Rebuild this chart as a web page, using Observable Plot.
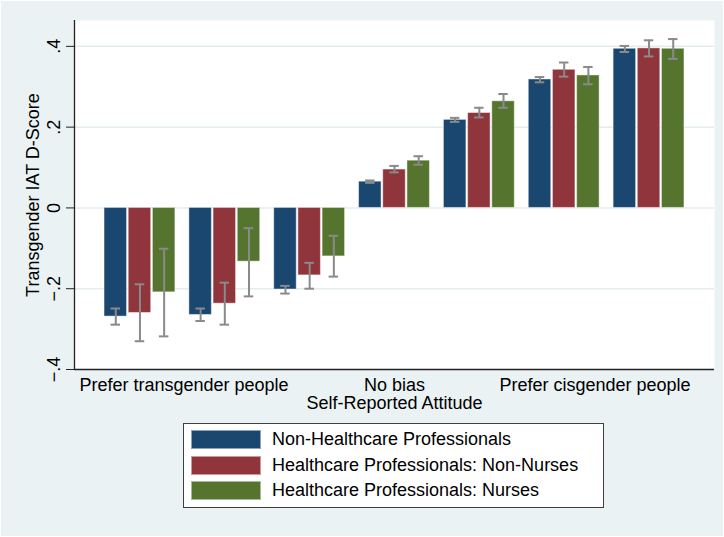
<!DOCTYPE html>
<html>
<head>
<meta charset="utf-8">
<script src="https://cdn.jsdelivr.net/npm/d3@7"></script>
<script src="https://cdn.jsdelivr.net/npm/@observablehq/plot@0.6"></script>
<style>
  body { margin: 0; background: #fff; }
  #wrap { position: relative; width: 724px; height: 537px; background: #eaf2f3;
          box-shadow: inset 0 0 0 1px #fff; overflow: hidden;
          font-family: "Liberation Sans", Arial, sans-serif; color: #000; }
  .layer { position: absolute; left: 0; top: 0; }
  .layer svg { display: block; }
  #legend { position: absolute; left: 183px; top: 423px; width: 419px; height: 83px;
            background: #fff; border: 1px solid #404040; }
  .row { position: absolute; left: 7px; height: 19px; display: flex; align-items: center; font-size: 18px; white-space: nowrap; }
  .sw { width: 68px; height: 17px; margin-right: 11px; border: 1px solid rgba(255,255,255,0.5); }
</style>
</head>
<body>
<div id="wrap">
  <div id="back" class="layer"></div>
  <div id="front" class="layer"></div>
  <div id="legend"></div>
</div>
<script>
// ---- data ----
const attitudes = [
  "Strongly prefer transgender people",
  "Moderately prefer transgender people",
  "Slightly prefer transgender people",
  "No bias",
  "Slightly prefer cisgender people",
  "Moderately prefer cisgender people",
  "Strongly prefer cisgender people"
];
const xTickGroups = [attitudes[0], attitudes[3], attitudes[6]];
const xTickLabels = ["Prefer transgender people", "No bias", "Prefer cisgender people"];
const series = [
  "Non-Healthcare Professionals",
  "Healthcare Professionals: Non-Nurses",
  "Healthcare Professionals: Nurses"
];
const colors = ["#1a476f", "#90353b", "#55752f"];

const nonHCMean  = [-0.269, -0.265, -0.202, 0.065, 0.218, 0.318, 0.394];
const nonHCLo    = [-0.289, -0.280, -0.212, 0.062, 0.213, 0.311, 0.386];
const nonHCHi    = [-0.249, -0.249, -0.193, 0.068, 0.223, 0.324, 0.401];
const nonNurseMean = [-0.260, -0.237, -0.167, 0.095, 0.235, 0.342, 0.395];
const nonNurseLo   = [-0.330, -0.289, -0.200, 0.088, 0.224, 0.325, 0.375];
const nonNurseHi   = [-0.189, -0.185, -0.136, 0.104, 0.248, 0.360, 0.415];
const nurseMean  = [-0.209, -0.133, -0.120, 0.117, 0.264, 0.328, 0.394];
const nurseLo    = [-0.318, -0.219, -0.170, 0.107, 0.248, 0.306, 0.369];
const nurseHi    = [-0.101, -0.050, -0.069, 0.128, 0.282, 0.349, 0.418];

const yTicks = [-0.4, -0.2, 0, 0.2, 0.4];
const yTitle = "Transgender IAT D-Score";
const xTitle = "Self-Reported Attitude";

// ---- table ----
const seriesData = [
  [nonHCMean, nonHCLo, nonHCHi],
  [nonNurseMean, nonNurseLo, nonNurseHi],
  [nurseMean, nurseLo, nurseHi]
];
const rows = [];
series.forEach((s, k) => {
  attitudes.forEach((a, i) => {
    rows.push({attitude: a, series: s, mean: seriesData[k][0][i], lo: seriesData[k][1][i], hi: seriesData[k][2][i]});
  });
});

const fmt = d => d === 0 ? "0" : d3.format(".1f")(d).replace("0.", ".");
const labelShift = [44, 0, -54];
const errColor = "#8a8a8a";
const font = "'Liberation Sans', Arial, sans-serif";

const common = {
  width: 724, height: 415,
  marginLeft: 74, marginRight: 10, marginTop: 20, marginBottom: 46,
  style: {fontFamily: font, fontSize: "18px", color: "#000", background: "transparent", overflow: "visible"},
};

// background layer: plot region, grid, y axis, titles
const back = Plot.plot({
  ...common,
  x: {domain: [0, 1], axis: null},
  y: {domain: [-0.4, 0.464], axis: null},
  marks: [
    Plot.frame({fill: "white", stroke: null}),
    Plot.ruleY(yTicks.filter(d => d > -0.4), {stroke: "#e3ecee", strokeWidth: 1.5}),
    Plot.ruleY([-0.4], {stroke: "#222", strokeWidth: 1.3}),
    Plot.ruleX([0], {stroke: "#222", strokeWidth: 1.3}),
    Plot.axisY({ticks: yTicks, tickSize: 8, tickFormat: () => "", stroke: "#222", label: null}),
    Plot.text(yTicks, {y: d => d, text: fmt, frameAnchor: "left", textAnchor: "middle", rotate: -90, dx: -20, fontSize: 18, fill: "#000"}),
    Plot.text([yTitle], {frameAnchor: "left", textAnchor: "middle", rotate: -90, dx: -41, fontSize: 18, fill: "#000"}),
    Plot.text([xTitle], {frameAnchor: "bottom", lineAnchor: "top", dy: 27, fontSize: 18, fill: "#000"})
  ]
});
document.getElementById("back").appendChild(back);

// front layer: bars, error bars, group labels
const front = Plot.plot({
  ...common,
  fx: {domain: attitudes, paddingInner: 0.165, paddingOuter: 0.354, round: false, axis: null, label: null},
  x: {domain: series, paddingInner: 0.07, paddingOuter: 0, round: false, axis: null},
  y: {domain: [-0.4, 0.464], axis: null},
  color: {domain: series, range: colors},
  marks: [
    Plot.barY(rows, {fx: "attitude", x: "series", y: "mean", fill: "series",
                     stroke: "white", strokeOpacity: 0.45, strokeWidth: 1}),
    Plot.ruleX(rows, {fx: "attitude", x: "series", y1: "lo", y2: "hi", stroke: errColor, strokeWidth: 2}),
    Plot.tickY(rows, {fx: "attitude", x: "series", y: "lo", stroke: errColor, strokeWidth: 2, insetLeft: 6.5, insetRight: 6.5}),
    Plot.tickY(rows, {fx: "attitude", x: "series", y: "hi", stroke: errColor, strokeWidth: 2, insetLeft: 6.5, insetRight: 6.5}),
    ...xTickGroups.map((g, k) => Plot.text([g], {fx: d => d, text: () => xTickLabels[k], frameAnchor: "bottom",
                       lineAnchor: "top", dy: 9, dx: labelShift[k], fontSize: 18, fill: "#000"}))
  ]
});
document.getElementById("front").appendChild(front);

// ---- legend ----
const legend = document.getElementById("legend");
series.forEach((s, k) => {
  const row = document.createElement("div");
  row.className = "row";
  row.style.top = (6 + k * 25.7) + "px";
  const sw = document.createElement("div");
  sw.className = "sw";
  sw.style.background = colors[k];
  const t = document.createElement("span");
  t.textContent = s;
  row.appendChild(sw); row.appendChild(t);
  legend.appendChild(row);
});
</script>
</body>
</html>
